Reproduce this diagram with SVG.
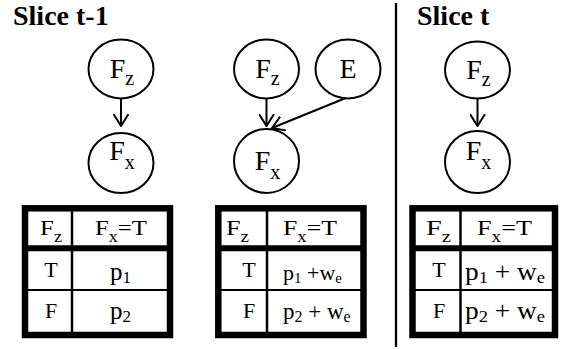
<svg xmlns="http://www.w3.org/2000/svg" width="564" height="349" viewBox="0 0 564 349">
<style>
.node{fill:#fff;stroke:#000;stroke-width:2}
.edge{stroke:#000;stroke-width:2;fill:none;marker-end:url(#arr)}
.tb{fill:#fff;stroke:#000;stroke-width:6.5}
.hs{stroke:#000;stroke-width:6}
.rs{stroke:#000;stroke-width:2}
.cs{stroke:#000;stroke-width:2.5}
</style>
<defs>
<marker id="arr" viewBox="0 0 13 16" refX="12" refY="8" markerWidth="13" markerHeight="16" markerUnits="userSpaceOnUse" orient="auto">
<path d="M0,0.5 L12,8 L0,15.5" fill="none" stroke="#000" stroke-width="2"/>
</marker>
</defs>
<rect width="564" height="349" fill="#fff"/>
<text x="13" y="25" font-family="Liberation Serif" font-size="28" font-weight="bold">Slice t-1</text>
<text x="417" y="25" font-family="Liberation Serif" font-size="28" font-weight="bold">Slice t</text>
<line x1="396" y1="3" x2="396" y2="347" stroke="#000" stroke-width="2.3"/>
<g id="connectors">
<line class="edge" x1="121" y1="98.5" x2="121" y2="126"/>
<line class="edge" x1="266.5" y1="98" x2="266.5" y2="126"/>
<line class="edge" x1="347" y1="97.5" x2="272" y2="128"/>
<line class="edge" x1="477.5" y1="98.5" x2="477.5" y2="126"/>
</g>
<g font-family="Liberation Serif" font-size="28" text-anchor="middle">
<g id="n1_fz"><ellipse class="node" cx="121" cy="69" rx="32.5" ry="29.5"/><text x="122" y="78">F<tspan font-size="20" dy="7">z</tspan></text></g>
<g id="n1_fx"><ellipse class="node" cx="121" cy="163" rx="32.5" ry="30"/><text x="122" y="160">F<tspan font-size="20" dy="9">x</tspan></text></g>
<g id="n2_fz"><ellipse class="node" cx="266.5" cy="69" rx="32.5" ry="29.5"/><text x="267.5" y="78">F<tspan font-size="20" dy="7">z</tspan></text></g>
<g id="n2_e"><ellipse class="node" cx="348" cy="69" rx="32.5" ry="29.5"/><text x="348" y="78">E</text></g>
<g id="n2_fx"><ellipse class="node" cx="266.5" cy="161" rx="32.5" ry="32"/><text x="267.5" y="170">F<tspan font-size="20" dy="9">x</tspan></text></g>
<g id="n3_fz"><ellipse class="node" cx="477.5" cy="70" rx="32.5" ry="28.5"/><text x="478.5" y="79">F<tspan font-size="20" dy="7">z</tspan></text></g>
<g id="n3_fx"><ellipse class="node" cx="477.5" cy="162" rx="32.5" ry="31"/><text x="478.5" y="160">F<tspan font-size="20" dy="9">x</tspan></text></g>
</g>
<g font-family="Liberation Serif" font-size="22">
<g id="table1">
<rect class="tb" x="25" y="208.3" width="145" height="126.7"/>
<line class="hs" x1="25" y1="248.3" x2="170" y2="248.3"/>
<line class="rs" x1="25" y1="290" x2="170" y2="290"/>
<line class="cs" x1="72" y1="208" x2="72" y2="335"/>
<text x="40" y="235" textLength="22" lengthAdjust="spacingAndGlyphs">F<tspan font-size="16" dy="7">z</tspan></text>
<text x="95" y="235" textLength="52" lengthAdjust="spacingAndGlyphs">F<tspan font-size="16" dy="7">x</tspan><tspan dy="-7">=T</tspan></text>
<text x="51" y="277" text-anchor="middle">T</text>
<text x="110" y="280" font-size="25">p<tspan font-size="17" dy="3">1</tspan></text>
<text x="51" y="318" text-anchor="middle">F</text>
<text x="110" y="319" font-size="25">p<tspan font-size="17" dy="3">2</tspan></text>
</g>
<g id="table2">
<rect class="tb" x="218.3" y="208.3" width="145.2" height="126.7"/>
<line class="hs" x1="218" y1="248.3" x2="363.5" y2="248.3"/>
<line class="rs" x1="218" y1="290" x2="363.5" y2="290"/>
<line class="cs" x1="267" y1="208" x2="267" y2="335"/>
<text x="226" y="235" textLength="23" lengthAdjust="spacingAndGlyphs">F<tspan font-size="16" dy="7">z</tspan></text>
<text x="283" y="235" textLength="54" lengthAdjust="spacingAndGlyphs">F<tspan font-size="16" dy="7">x</tspan><tspan dy="-7">=T</tspan></text>
<text x="249" y="277" text-anchor="middle">T</text>
<text x="283" y="280">p<tspan font-size="15" dy="3">1</tspan><tspan dy="-3"> +w</tspan><tspan font-size="15" dy="3">e</tspan></text>
<text x="249" y="318" text-anchor="middle">F</text>
<text x="283" y="319" font-size="23">p<tspan font-size="16" dy="3">2</tspan><tspan dy="-3"> + w</tspan><tspan font-size="16" dy="3">e</tspan></text>
</g>
<g id="table3">
<rect class="tb" x="412.5" y="208.3" width="142.5" height="126.7"/>
<line class="hs" x1="412.5" y1="248.3" x2="555" y2="248.3"/>
<line class="rs" x1="412.5" y1="290" x2="555" y2="290"/>
<line class="cs" x1="460.5" y1="208" x2="460.5" y2="335"/>
<text x="426" y="235" textLength="25" lengthAdjust="spacingAndGlyphs">F<tspan font-size="16" dy="7">z</tspan></text>
<text x="477" y="235" textLength="55" lengthAdjust="spacingAndGlyphs">F<tspan font-size="16" dy="7">x</tspan><tspan dy="-7">=T</tspan></text>
<text x="439" y="277" text-anchor="middle">T</text>
<text x="465" y="280" font-size="25" textLength="80" lengthAdjust="spacingAndGlyphs">p<tspan font-size="17" dy="3">1</tspan><tspan dy="-3"> + w</tspan><tspan font-size="17" dy="3">e</tspan></text>
<text x="439" y="318" text-anchor="middle">F</text>
<text x="465" y="319" font-size="25" textLength="80" lengthAdjust="spacingAndGlyphs">p<tspan font-size="17" dy="3">2</tspan><tspan dy="-3"> + w</tspan><tspan font-size="17" dy="3">e</tspan></text>
</g>
</g>
</svg>
